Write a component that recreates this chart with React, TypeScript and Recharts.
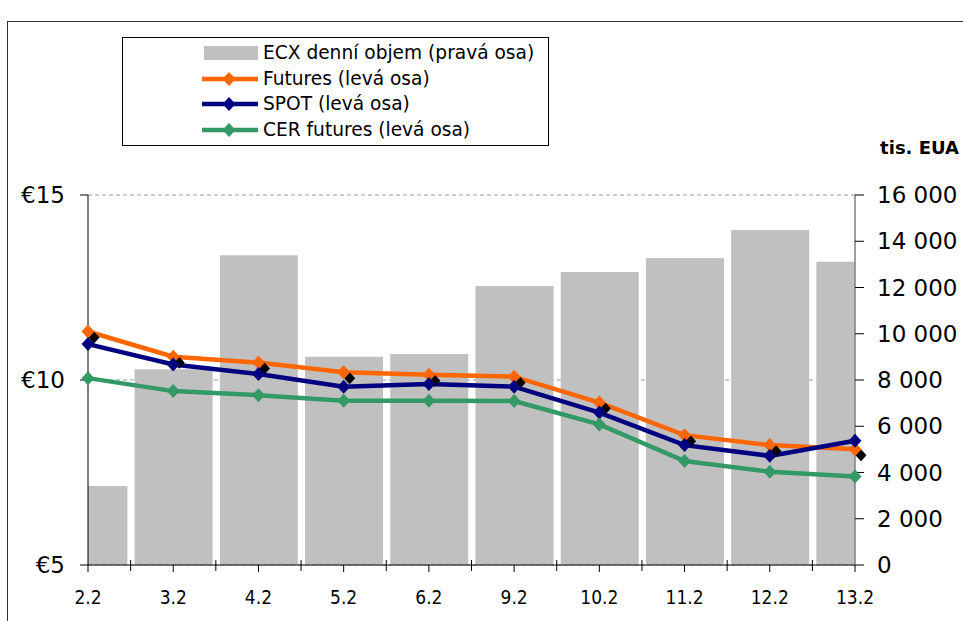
import React from 'react';
import { ComposedChart, Bar, Line, XAxis, YAxis, CartesianGrid } from 'recharts';

const categories = ['2.2', '3.2', '4.2', '5.2', '6.2', '9.2', '10.2', '11.2', '12.2', '13.2'];
const volume = [3420, 8460, 13400, 9010, 9120, 12070, 12670, 13280, 14490, 13110];
const futures = [11.31, 10.63, 10.47, 10.21, 10.14, 10.09, 9.39, 8.51, 8.24, 8.13];
const spot = [10.97, 10.42, 10.16, 9.82, 9.89, 9.82, 9.12, 8.24, 7.95, 8.36];
const cer = [10.05, 9.7, 9.59, 9.44, 9.44, 9.43, 8.8, 7.81, 7.52, 7.39];
const leftTicks = [5, 10, 15];
const rightTicks = [0, 2000, 4000, 6000, 8000, 10000, 12000, 14000, 16000];
const xTicks = [0, 0.5, 1, 1.5, 2, 2.5, 3, 3.5, 4, 4.5, 5, 5.5, 6, 6.5, 7, 7.5, 8, 8.5, 9];

const legendItems = [
  { label: 'ECX denní objem (pravá osa)', color: '#C0C0C0', kind: 'bar' },
  { label: 'Futures (levá osa)', color: '#FF6600', kind: 'line' },
  { label: 'SPOT (levá osa)', color: '#000080', kind: 'line' },
  { label: 'CER futures (levá osa)', color: '#339966', kind: 'line' },
];

const data = categories.map((c, i) => ({
  idx: i,
  label: c,
  volume: volume[i],
  futures: futures[i],
  spot: spot[i],
  cer: cer[i],
}));

const FONT = "'DejaVu Sans', Verdana, sans-serif";

const makeDiamond = (fill: string, dx = 0, dy = 0, w = 6.5, h = 7) => (props: any) => {
  const { cx, cy, index } = props;
  if (cx == null || cy == null) return <g key={`d-${index}`} />;
  const x = cx + dx;
  const y = cy + dy;
  return (
    <path
      key={`d-${fill}-${index}`}
      d={`M${x},${y - h}L${x + w},${y}L${x},${y + h}L${x - w},${y}Z`}
      fill={fill}
      stroke="none"
    />
  );
};

const XTick = (props: any) => {
  const { x, y, payload } = props;
  const v = payload.value;
  const isCat = Number.isInteger(v);
  return (
    <g>
      {isCat ? (
        <line x1={x} x2={x} y1={y} y2={y + 7} stroke="#000" strokeWidth={1} />
      ) : (
        <line x1={x} x2={x} y1={y - 5} y2={y + 6} stroke="#000" strokeWidth={1} />
      )}
      {isCat && (
        <text
          x={x}
          y={y + 39}
          textAnchor="middle"
          fontSize={19}
          fontFamily={"'DejaVu Sans Condensed', " + FONT}
          fill="#000"
        >
          {categories[v]}
        </text>
      )}
    </g>
  );
};

const fmtRight = (v: number) =>
  v >= 1000 ? `${Math.floor(v / 1000)} ${String(v % 1000).padStart(3, '0')}` : `${v}`;

export default function App() {
  return (
    <div
      style={{
        position: 'absolute',
        left: 0,
        top: 0,
        width: 963,
        height: 621,
        overflow: 'hidden',
        background: '#fff',
        fontFamily: FONT,
      }}
    >
      <div
        style={{
          position: 'absolute',
          left: 7,
          top: 21,
          width: 1100,
          height: 800,
          borderLeft: '1.5px solid #333',
          borderTop: '1.5px solid #333',
        }}
      />
      <div style={{ position: 'absolute', left: 0, top: 0 }}>
        <ComposedChart
          width={963}
          height={621}
          data={data}
          margin={{ top: 195, right: 0, bottom: 0, left: 0 }}
        >
          <CartesianGrid
            horizontal={true}
            vertical={false}
            yAxisId="left"
            xAxisId="cat"
            stroke="#999"
            strokeDasharray="4 3"
          />
          <XAxis
            xAxisId="cat"
            dataKey="idx"
            type="number"
            domain={[0, 9]}
            ticks={xTicks}
            interval={0}
            height={56}
            tickSize={0}
            tickMargin={0}
            tickLine={false}
            axisLine={{ stroke: '#000', strokeWidth: 1 }}
            tick={<XTick />}
          />
          <XAxis
            xAxisId="bars"
            dataKey="idx"
            type="number"
            orientation="top"
            height={0}
            domain={[0, 9]}
            hide
            allowDataOverflow
          />
          <YAxis
            yAxisId="left"
            orientation="left"
            width={88}
            domain={[5, 15]}
            ticks={leftTicks}
            interval={0}
            tickSize={8}
            tickMargin={15}
            axisLine={{ stroke: '#000', strokeWidth: 1 }}
            tickLine={{ stroke: '#000', strokeWidth: 1 }}
            tick={{ fontSize: 23, fill: '#000', fontFamily: FONT }}
            tickFormatter={(v: number) => `€${v}`}
          />
          <YAxis
            yAxisId="right"
            orientation="right"
            width={108}
            domain={[0, 16000]}
            ticks={rightTicks}
            interval={0}
            tickSize={9}
            tickMargin={13}
            axisLine={{ stroke: '#808080', strokeWidth: 1.5 }}
            tickLine={{ stroke: '#000', strokeWidth: 1 }}
            tick={{ fontSize: 23, fill: '#000', fontFamily: FONT, textAnchor: 'start' }}
            tickFormatter={fmtRight}
          />
          <Bar
            xAxisId="bars"
            yAxisId="right"
            dataKey="volume"
            fill="#C0C0C0"
            barSize={78}
            isAnimationActive={false}
          />
          <Line
            xAxisId="cat"
            yAxisId="left"
            dataKey="futures"
            stroke="none"
            strokeWidth={0}
            dot={makeDiamond('#000', 6, 6, 5.5, 6)}
            activeDot={false}
            legendType="none"
            isAnimationActive={false}
          />
          <Line
            xAxisId="cat"
            yAxisId="left"
            dataKey="futures"
            stroke="#FF6600"
            strokeWidth={4.5}
            dot={makeDiamond('#FF6600')}
            activeDot={false}
            isAnimationActive={false}
          />
          <Line
            xAxisId="cat"
            yAxisId="left"
            dataKey="spot"
            stroke="#000080"
            strokeWidth={4.5}
            dot={makeDiamond('#000080')}
            activeDot={false}
            isAnimationActive={false}
          />
          <Line
            xAxisId="cat"
            yAxisId="left"
            dataKey="cer"
            stroke="#339966"
            strokeWidth={4.5}
            dot={makeDiamond('#339966')}
            activeDot={false}
            isAnimationActive={false}
          />
        </ComposedChart>
      </div>
      <div
        style={{
          position: 'absolute',
          left: 877,
          width: 82,
          top: 137,
          lineHeight: '22px',
          fontSize: 18,
          fontWeight: 'bold',
          textAlign: 'right',
          whiteSpace: 'nowrap',
          color: '#000',
        }}
      >
        tis. EUA
      </div>
      <div
        style={{
          position: 'absolute',
          left: 122,
          top: 37,
          width: 427,
          height: 109,
          border: '1px solid #000',
          boxSizing: 'border-box',
          background: '#fff',
        }}
      />
      {legendItems.map((it, i) => {
        const center = 53 + i * 25.7;
        return (
          <div
            key={it.label}
            style={{ position: 'absolute', left: 200, top: center - 13, height: 26, width: 340 }}
          >
            <svg width={60} height={26} style={{ position: 'absolute', left: 0, top: 0 }}>
              {it.kind === 'bar' ? (
                <rect x={4} y={6} width={54} height={14} fill={it.color} />
              ) : (
                <g>
                  <line x1={2} x2={58} y1={13} y2={13} stroke={it.color} strokeWidth={4.5} />
                  <path d="M29,6L35.5,13L29,20L22.5,13Z" fill={it.color} />
                </g>
              )}
            </svg>
            <div
              style={{
                position: 'absolute',
                left: 63,
                top: 0,
                lineHeight: '26px',
                fontSize: 18.6,
                whiteSpace: 'nowrap',
                color: '#000',
              }}
            >
              {it.label}
            </div>
          </div>
        );
      })}
    </div>
  );
}
